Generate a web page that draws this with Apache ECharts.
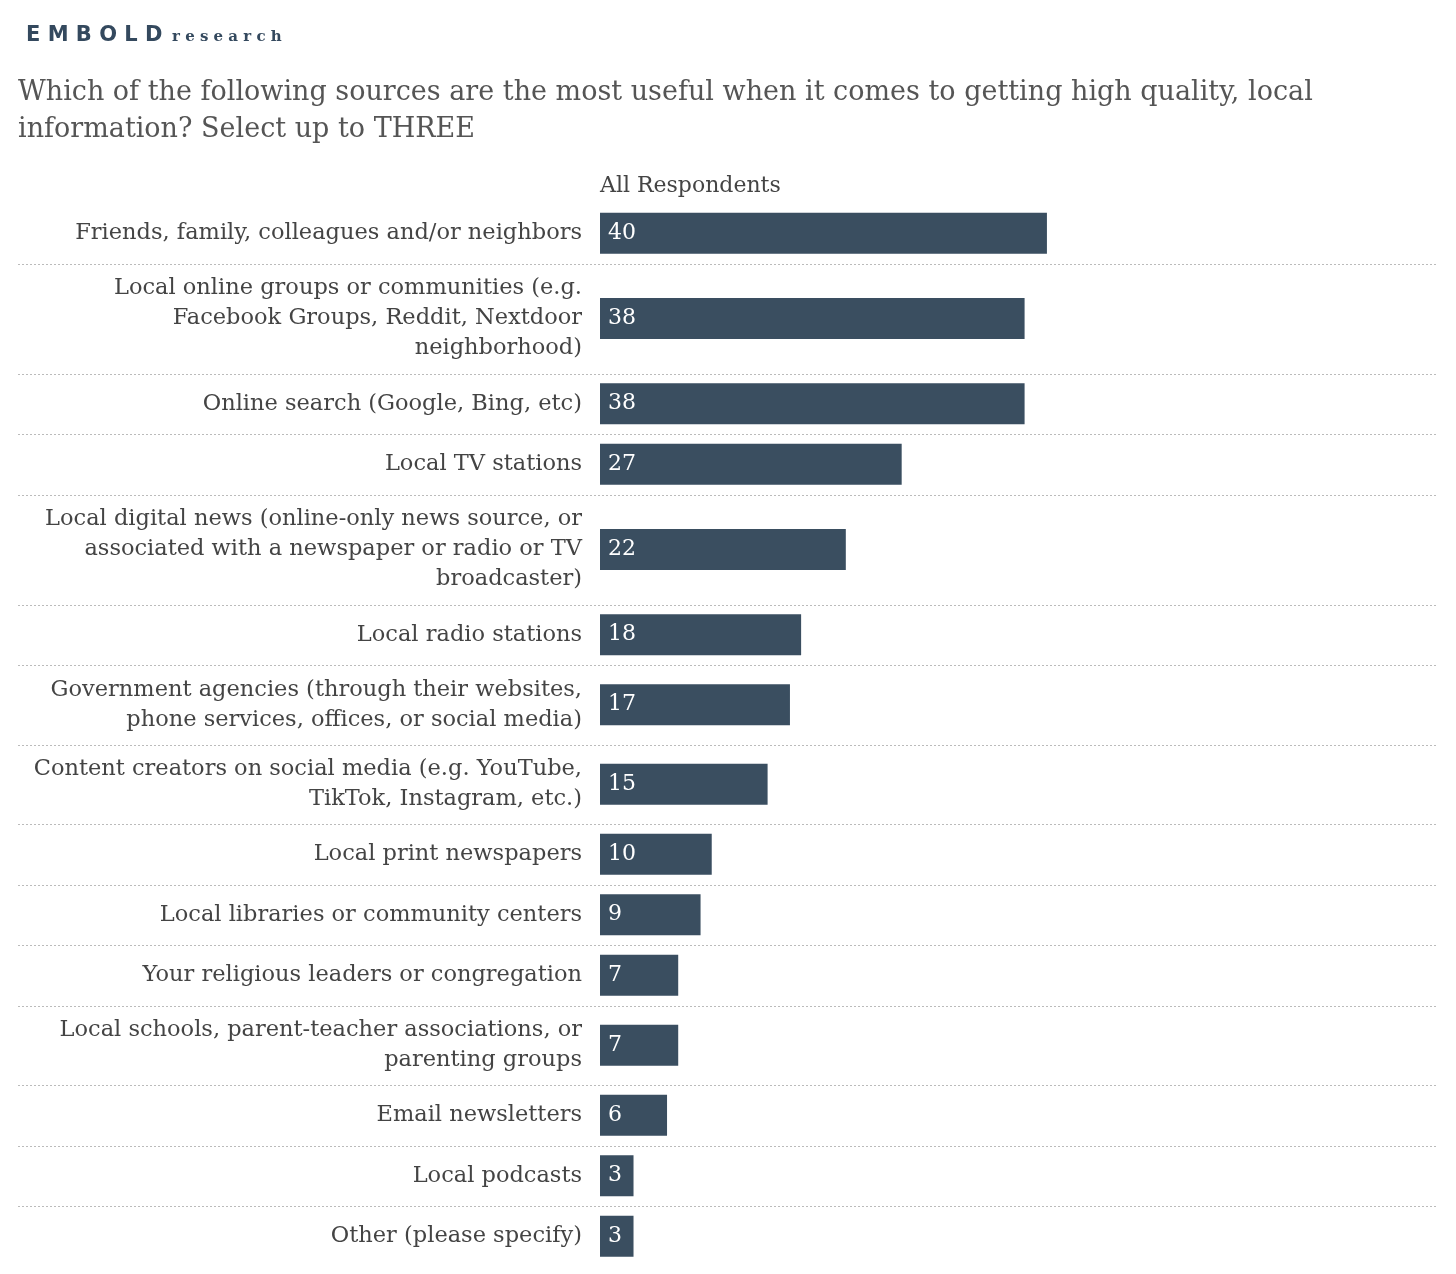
<!DOCTYPE html>
<html><head><meta charset="utf-8">
<script src="https://cdn.jsdelivr.net/npm/echarts@6/dist/echarts.min.js"></script>
<style>html,body{margin:0;background:#fff}#c{width:1456px;height:1274px}</style>
</head><body><div id="c"></div>
<script>
const categories = [
  'Friends, family, colleagues and/or neighbors',
  'Local online groups or communities (e.g.\nFacebook Groups, Reddit, Nextdoor\nneighborhood)',
  'Online search (Google, Bing, etc)',
  'Local TV stations',
  'Local digital news (online-only news source, or\nassociated with a newspaper or radio or TV\nbroadcaster)',
  'Local radio stations',
  'Government agencies (through their websites,\nphone services, offices, or social media)',
  'Content creators on social media (e.g. YouTube,\nTikTok, Instagram, etc.)',
  'Local print newspapers',
  'Local libraries or community centers',
  'Your religious leaders or congregation',
  'Local schools, parent-teacher associations, or\nparenting groups',
  'Email newsletters',
  'Local podcasts',
  'Other (please specify)'
];
const values = [40, 38, 38, 27, 22, 18, 17, 15, 10, 9, 7, 7, 6, 3, 3];

const FONT = 'DejaVu Serif';
const chart = echarts.init(document.getElementById('c'));
const grids = [], xAxes = [], yAxes = [], series = [], graphics = [];
let rowTop = 203;
categories.forEach((name, i) => {
  const lines = name.split('\n').length;
  const h = lines === 1 ? 60.5 : (lines === 2 ? 79.5 : 110);
  grids.push({ left: 600, right: 18, top: rowTop, height: h });
  xAxes.push({ gridIndex: i, type: 'value', min: 0, max: 75, show: false });
  yAxes.push({
    gridIndex: i, type: 'category', data: [name],
    axisLine: { show: false }, axisTick: { show: false },
    axisLabel: { color: '#444', fontFamily: FONT, fontSize: 22.5, lineHeight: 30, align: 'right', margin: 18 }
  });
  series.push({
    type: 'bar', xAxisIndex: i, yAxisIndex: i, data: [values[i]], barWidth: 41,
    itemStyle: { color: '#3a4e60' }, silent: true,
    label: { show: true, position: 'insideLeft', distance: 8, color: '#fff', fontFamily: FONT, fontSize: 22 }
  });
  rowTop += h;
  if (i < categories.length - 1) {
    graphics.push({ type: 'line', shape: { x1: 18, y1: Math.round(rowTop) + 0.5, x2: 1438, y2: Math.round(rowTop) + 0.5 },
      style: { stroke: '#bbb', lineWidth: 1, lineDash: [2, 2] } });
  }
});
graphics.push(
  { type: 'text', left: 26, top: 25, style: { text: 'E M B O L D', font: 'bold 21px "DejaVu Sans"', fill: '#34495e' } },
  { type: 'text', left: 172, top: 30, style: { text: 'r e s e a r c h', font: 'bold 15px "DejaVu Serif"', fill: '#34495e' } },
  { type: 'text', left: 18, top: 74, style: { text: 'Which of the following sources are the most useful when it comes to getting high quality, local\ninformation? Select up to THREE', font: '27px "' + FONT + '"', fill: '#555', lineHeight: 37 } },
  { type: 'text', left: 600, top: 175, style: { text: 'All Respondents', font: '22px "' + FONT + '"', fill: '#444' } }
);
chart.setOption({
  animation: false,
  grid: grids, xAxis: xAxes, yAxis: yAxes, series: series, graphic: graphics
});
</script></body></html>
